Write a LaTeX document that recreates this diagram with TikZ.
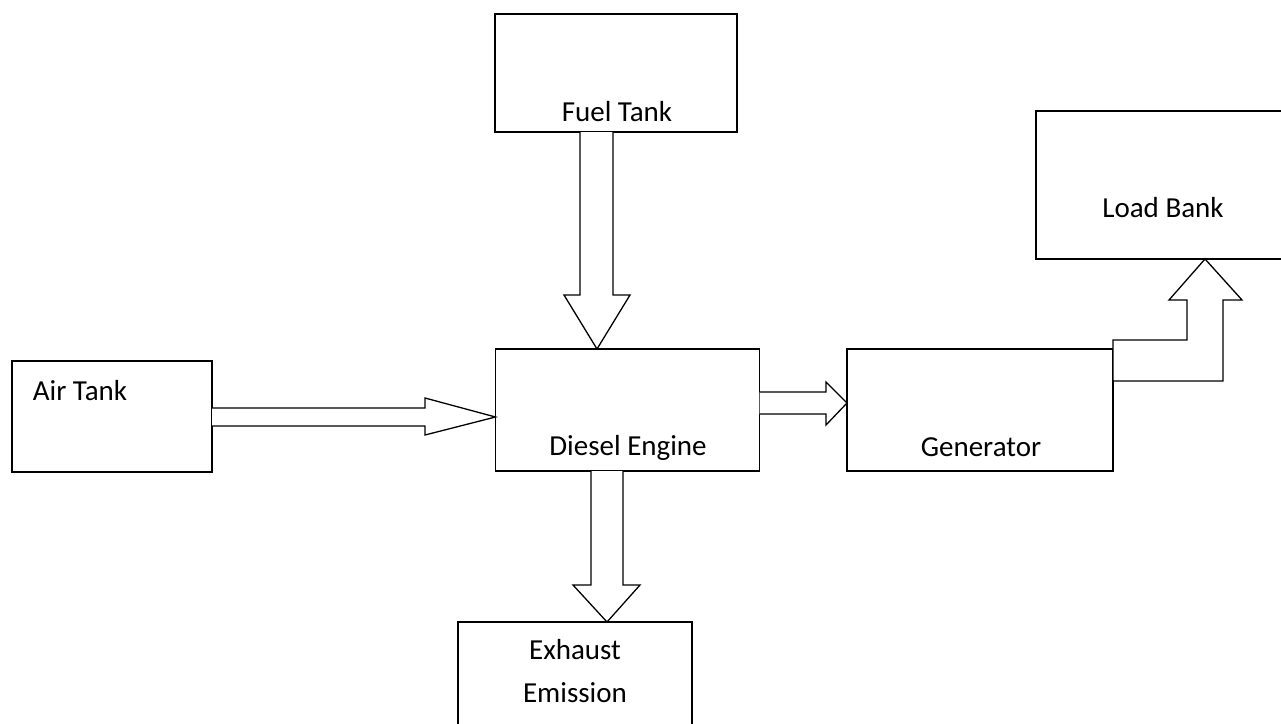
\documentclass[tikz,border=0pt]{standalone}
\usepackage{fontspec}
\setmainfont{Carlito}
\usetikzlibrary{calc}
\begin{document}
\begin{tikzpicture}[x=1pt,y=-1pt,
  box/.style={draw, line width=1.3pt, inner sep=0pt, outer sep=0pt},
  lbl/.style={font=\fontsize{29}{40}\selectfont, inner sep=0pt, anchor=base},
  blk/.style={draw, line width=1.3pt, fill=white, line join=miter}]
\useasboundingbox (0,0) rectangle (1281,723);
\clip (0,0) rectangle (1281,723);
% boxes
\node[box, minimum width=242pt, minimum height=118pt] (fuel) at (616,73) {};
\node[box, minimum width=264pt, minimum height=122pt] (diesel) at (627.5,410) {};
\node[box, minimum width=200pt, minimum height=111pt] (air) at (112,416.5) {};
\node[box, minimum width=234pt, minimum height=130pt] (exhaust) at (575,687) {};
\node[box, minimum width=266pt, minimum height=122pt] (gen) at (980,410) {};
\node[box, minimum width=270pt, minimum height=148pt] (load) at (1171,185) {};
% labels
\node[lbl] (tfuel) at (617,121) {Fuel Tank};
\node[lbl] (tdiesel) at (628,455) {Diesel Engine};
\node[lbl] (tair) at (80,400) {Air Tank};
\node[lbl] (texh1) at (575,659) {Exhaust};
\node[lbl] (texh2) at (575,702) {Emission};
\node[lbl] (tgen) at (981,456) {Generator};
\node[lbl] (tload) at (1163,217) {Load Bank};
% block arrows
\coordinate (f0) at ($(fuel.south)+(-36,0)$);
\coordinate (f1) at ($(fuel.south)+(-3,0)$);
\coordinate (ftip) at ($(diesel.north)+(-30.5,0)$);
\draw[blk] (f0) -- (f0 |- 0,295) -- (564,295) -- (ftip) -- (630,295) -- (f1 |- 0,295) -- (f1);

\coordinate (a0) at ($(air.east)+(0,-8.5)$);
\coordinate (a1) at ($(air.east)+(0,9.5)$);
\coordinate (atip) at ($(diesel.west)+(0,7)$);
\draw[blk] (a0) -- (a0 -| 425,0) -- (425,398) -- (atip) -- (425,435) -- (a1 -| 425,0) -- (a1);

\coordinate (g0) at ($(diesel.east)+(0,-18)$);
\coordinate (g1) at ($(diesel.east)+(0,4)$);
\coordinate (gtip) at ($(gen.west)+(0,-7)$);
\draw[blk] (g0) -- (g0 -| 826,0) -- (826,382) -- (gtip) -- (826,425) -- (g1 -| 826,0) -- (g1);

\coordinate (e0) at ($(diesel.south)+(-36.5,0)$);
\coordinate (e1) at ($(diesel.south)+(-4.5,0)$);
\coordinate (etip) at ($(exhaust.north)+(32,0)$);
\draw[blk] (e0) -- (e0 |- 0,585) -- (573,585) -- (etip) -- (640,585) -- (e1 |- 0,585) -- (e1);

\coordinate (l0) at ($(gen.north east)+(0,-9)$);
\coordinate (l1) at ($(gen.east)+(0,-29)$);
\coordinate (ltip) at ($(load.south)+(34,0)$);
\draw[blk] (l0) -- (1187,340) -- (1187,300) -- (1169,300) -- (ltip) -- (1242,300) -- (1223,300) -- (1223,381) -- (l1) -- cycle;
\end{tikzpicture}
\end{document}
